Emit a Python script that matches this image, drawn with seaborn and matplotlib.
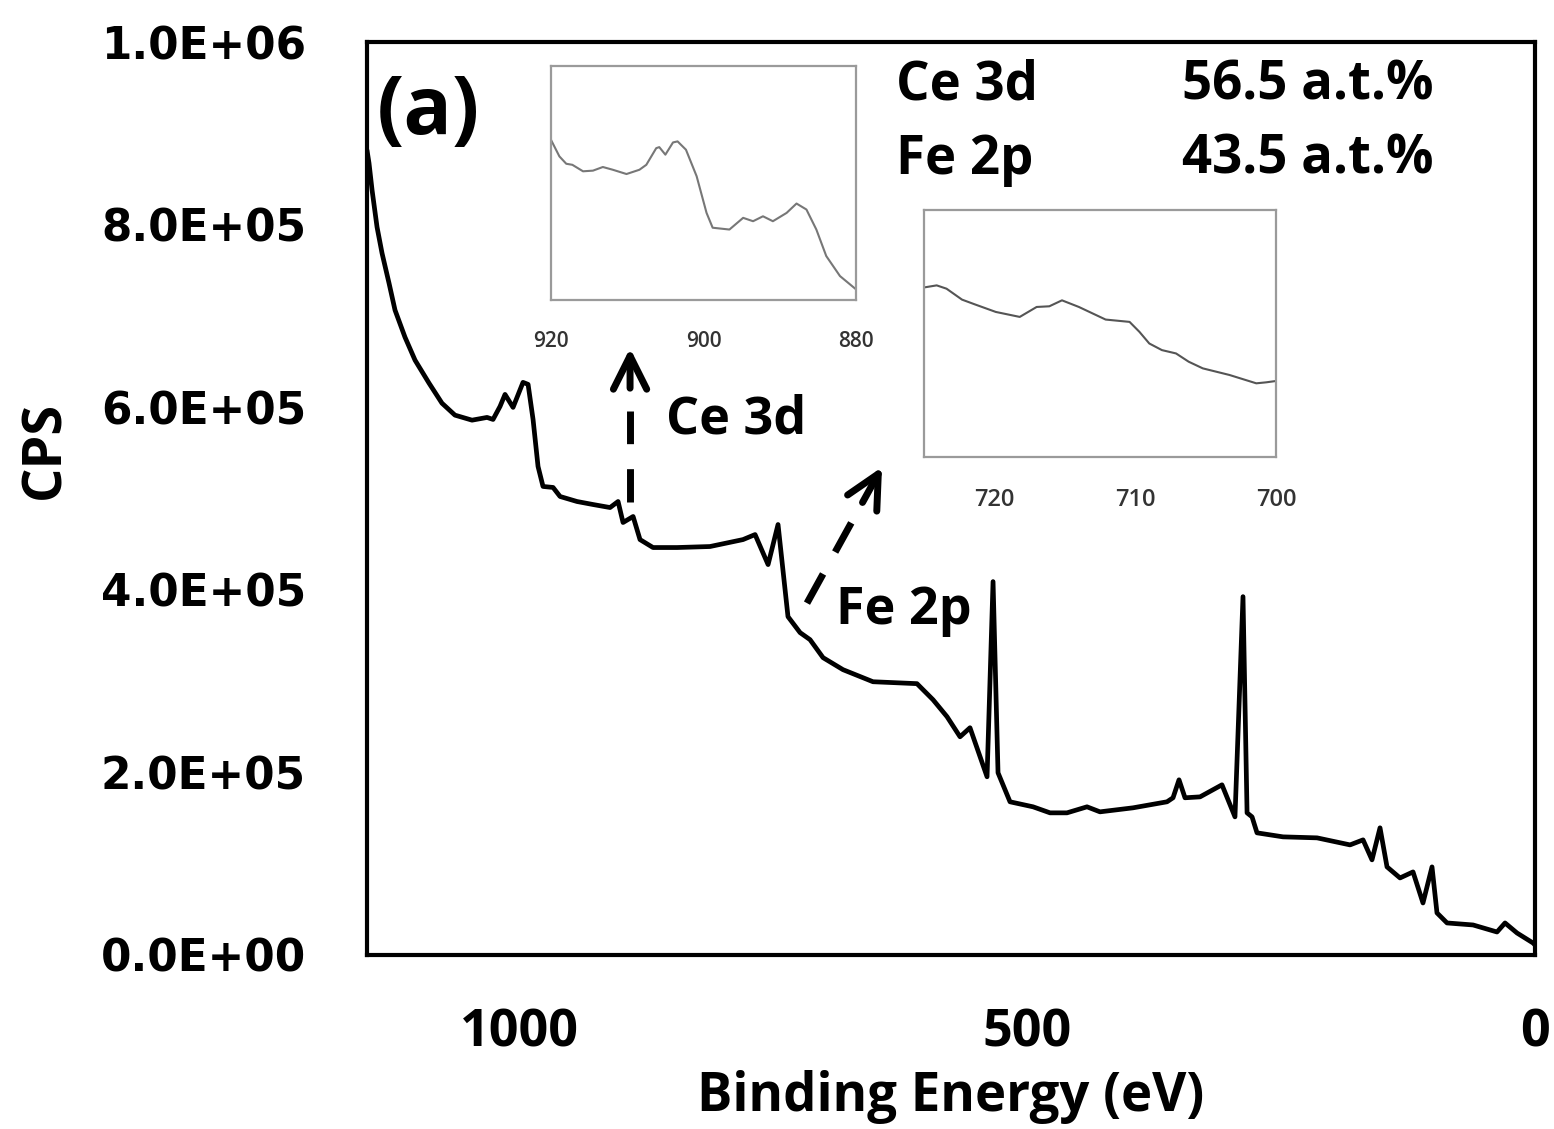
import numpy as np
import pandas as pd
import matplotlib
matplotlib.use("Agg")
import matplotlib.pyplot as plt
import seaborn as sns

# ---------------- data ----------------
survey_ev = [1150.0, 1148.0, 1145.0, 1140.1, 1135.2, 1128.3, 1122.4, 1112.6, 1102.7, 1088.9,
             1076.2, 1063.4, 1046.6, 1031.8,
             1025.9, 1019.0, 1014.1, 1006.2, 996.4, 991.4, 986.5, 981.6, 976.7, 966.8,
             959.9, 943.2, 927.4, 910.7, 902.8, 897.9, 888.0, 881.2, 868.4, 844.7,
             812.3, 779.8, 767.9, 755.1, 745.3, 735.5, 723.6, 713.8, 701.0, 681.3,
             651.8, 608.5, 592.7, 578.9, 566.1, 556.3, 539.5, 533.6, 528.7, 516.9,
             494.2, 477.5, 460.8, 441.1, 428.3, 395.8, 362.3, 356.4, 350.5, 344.6,
             329.8, 308.2, 295.4, 287.5, 283.5, 278.6, 273.7, 248.1, 214.6, 182.1,
             169.3, 160.5, 152.6, 145.7, 132.9, 120.1, 110.3, 101.4, 96.5, 86.6,
             61.0, 37.4, 29.5, 17.7, 2.0, 0.0]
survey_cps = [881500, 867200, 837700, 797200, 768700, 735800, 706300, 676700, 651500, 626300,
              604400, 591300, 585800, 588800,
              586600, 600900, 614000, 599800, 627200, 625000, 586600, 535100, 513200, 512100,
              502200, 496700, 493400, 490100, 496700, 473700, 480300, 455000, 446300, 446300,
              447400, 455000, 460500, 427600, 471500, 370600, 353100, 345400, 325700, 312500,
              299300, 297200, 279600, 261000, 239000, 248900, 195200, 409000, 199600, 167800,
              162300, 155700, 155700, 162300, 156800, 161200, 167800, 172200, 191900, 172200,
              173200, 186400, 151300, 392500, 155700, 151300, 133800, 129400, 128300, 120600,
              126100, 104200, 139300, 96500, 84400, 91000, 57000, 96500, 46100, 35100,
              32900, 25200, 35100, 24100, 13200, 11000]

ce_ev = [920.0, 918.9, 918.0, 917.2, 915.8, 914.5, 913.2, 911.9, 910.1, 908.4,
         907.5, 906.2, 905.8, 905.0, 904.0, 903.4, 902.3, 900.9, 899.6, 898.8,
         896.6, 894.8, 893.5, 892.2, 890.9, 889.1, 887.8, 886.5, 885.2, 883.9,
         882.1, 880.0]
ce_cps = [486600, 480240, 477400, 477000, 474500, 474750, 476150, 475100, 473450, 475100,
          477000, 483400, 483800, 480900, 485600, 486000, 482800, 472600, 458500, 452800,
          452100, 456600, 455300, 457200, 455300, 458500, 462100, 459800, 452100, 441900,
          434200, 429100]

fe_ev = [725.1, 724.1, 723.4, 722.3, 721.4, 719.9, 718.2, 717.0, 716.1, 715.2,
         714.0, 712.1, 710.4, 709.7, 709.0, 708.1, 707.1, 706.2, 705.2, 703.3,
         701.4, 700.7, 700.0]
fe_cps = [377980, 378640, 377700, 374600, 373270, 371110, 369700, 372520, 372710, 374400,
          372520, 368950, 368290, 365470, 362170, 360290, 359350, 357000, 355120, 353240,
          350880, 351160, 351540]

y_ticks = [0, 200000, 400000, 600000, 800000, 1000000]
y_tick_labels = ["0.0E+00", "2.0E+05", "4.0E+05", "6.0E+05", "8.0E+05", "1.0E+06"]
x_ticks = [1000, 500, 0]
ce_ticks = [920, 900, 880]
fe_ticks = [720, 710, 700]
composition = [("Ce 3d", "56.5 a.t.%"), ("Fe 2p", "43.5 a.t.%")]

# ---------------- figure ----------------
sns.set_theme(style="white")
plt.rcParams["font.family"] = ["Open Sans", "DejaVu Sans"]
plt.rcParams["text.color"] = "black"
plt.rcParams["axes.labelcolor"] = "black"
plt.rcParams["xtick.color"] = "black"
plt.rcParams["ytick.color"] = "black"

W, H = 1554, 1129
fig = plt.figure(figsize=(W / 100, H / 100), dpi=100)


def fx(px):
    return px / W


def fy(py):
    return 1 - py / H


ax = fig.add_axes([fx(367), fy(955), fx(1535) - fx(367), fy(42) - fy(955)])
df = pd.DataFrame({"ev": survey_ev, "cps": survey_cps})
sns.lineplot(data=df, x="ev", y="cps", ax=ax, color="black", lw=3.4,
             estimator=None, sort=False)
ax.set_xlim(1150, 0)
ax.set_ylim(0, 1000000)
ax.set_yticks(y_ticks)
ax.set_yticklabels(y_tick_labels, fontfamily="DejaVu Sans", fontweight="bold", fontsize=31.5)
ax.set_xticks(x_ticks)
ax.set_xticklabels([str(t) for t in x_ticks], fontweight="bold", fontsize=37.5)
ax.tick_params(axis="y", length=0, pad=44)
ax.tick_params(axis="x", length=7, width=1.5, color="#999999", direction="out", pad=30)
for s in ax.spines.values():
    s.set_color("black")
    s.set_linewidth(3.0)
ax.set_xlabel("Binding Energy (eV)", fontsize=38, fontweight="bold", va="center")
ax.xaxis.set_label_coords(0.5, -0.155)
ax.set_ylabel("CPS", fontsize=39, fontweight="bold", va="center")
ax.yaxis.set_label_coords(-0.2757, 0.553)

# panel label and composition text
fig.text(fx(377), fy(113), "(a)", fontsize=58, fontweight="bold", ha="left", va="center")
for i, (el, pct) in enumerate(composition):
    yy = fy(85 + 75 * i)
    fig.text(fx(896), yy, el, fontsize=38, fontweight="bold", ha="left", va="center")
    fig.text(fx(1433), yy, pct, fontsize=38, fontweight="bold", ha="right", va="center")

fig.text(fx(666), fy(420), "Ce 3d", fontsize=37.5, fontweight="bold", ha="left", va="center")
fig.text(fx(836), fy(611), "Fe 2p", fontsize=37.5, fontweight="bold", ha="left", va="center")

# dashed arrows: (start, tip) in data coordinates
arrow_segs = [((891.0, 496000), (891.0, 664700)), ((716.8, 385400), (642.9, 534400))]
for (x0, y0), (x1, y1) in arrow_segs:
    xd = x0 + (x1 - x0) * 0.59
    yd = y0 + (y1 - y0) * 0.59
    ax.plot([x0, xd], [y0, yd], color="black", lw=5.0, ls=(0, (4.8, 3.6)),
            solid_capstyle="butt", dash_capstyle="butt")
    xm = x0 + (x1 - x0) * 0.74
    ym = y0 + (y1 - y0) * 0.74
    ax.annotate("", xy=(x1, y1), xytext=(xm, ym),
                arrowprops=dict(arrowstyle="->,head_length=0.5,head_width=0.25", lw=5.0,
                                color="black", mutation_scale=48, shrinkA=0, shrinkB=0))

# insets
inset_grey = "#9a9a9a"


def make_inset(rect, xs, ys, xlim, ylim, ticks, lc, fs):
    ia = fig.add_axes(rect)
    sns.lineplot(x=xs, y=ys, ax=ia, color=lc, lw=1.5, estimator=None, sort=False)
    ia.set_xlim(*xlim)
    ia.set_ylim(*ylim)
    ia.set_xticks(ticks)
    ia.set_xticklabels([str(t) for t in ticks], fontsize=fs, fontweight="semibold",
                       color="#333333")
    ia.set_yticks([])
    ia.tick_params(axis="x", length=0, pad=22)
    ia.set_xlabel("")
    ia.set_ylabel("")
    for s in ia.spines.values():
        s.set_color(inset_grey)
        s.set_linewidth(1.6)
    return ia


make_inset([fx(551), fy(300), fx(856) - fx(551), fy(66) - fy(300)],
           ce_ev, ce_cps, (920, 880), (425000, 515000), ce_ticks, "#777777", 15)
make_inset([fx(924), fy(457), fx(1276) - fx(924), fy(210) - fy(457)],
           fe_ev, fe_cps, (725, 700), (330000, 400000), fe_ticks, "#555555", 17)

fig.savefig("out.png", dpi=100)
